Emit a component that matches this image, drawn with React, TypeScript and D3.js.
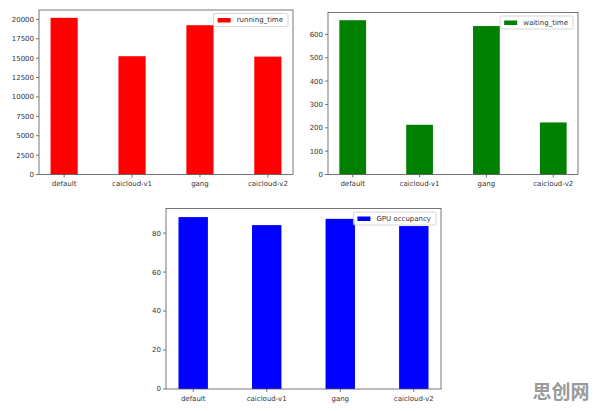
import { useEffect, useRef } from 'react';
import * as d3 from 'd3';

const categories = ['default', 'caicloud-v1', 'gang', 'caicloud-v2'];
const runningTime = [20200, 15250, 19250, 15200];
const waitingTime = [661, 213, 636, 223];
const gpuOccupancy = [88.2, 84.1, 87.3, 83.6];
const runningTicks = [0, 2500, 5000, 7500, 10000, 12500, 15000, 17500, 20000];
const waitingTicks = [0, 100, 200, 300, 400, 500, 600];
const gpuTicks = [0, 20, 40, 60, 80];

type Panel = {
  values: number[];
  ticks: number[];
  label: string;
  color: string;
  box: { left: number; right: number; top: number; bottom: number };
};

export default function App() {
  const svgRef = useRef<SVGSVGElement>(null);

  useEffect(() => {
    document.body.style.margin = '0';
    if (!svgRef.current) return;
    const svg = d3.select(svgRef.current);
    svg.selectAll('*').remove();

    const panels: Panel[] = [
      { values: runningTime, ticks: runningTicks, label: 'running_time', color: '#ff0000', box: { left: 39, right: 293, top: 10, bottom: 174.5 } },
      { values: waitingTime, ticks: waitingTicks, label: 'waiting_time', color: '#008000', box: { left: 328, right: 578, top: 12.5, bottom: 174.5 } },
      { values: gpuOccupancy, ticks: gpuTicks, label: 'GPU occupancy', color: '#0000ff', box: { left: 166, right: 441, top: 208.5, bottom: 389 } },
    ];

    const font = 'DejaVu Sans, sans-serif';

    panels.forEach(p => {
      const { left, right, top, bottom } = p.box;
      const ymax = d3.max(p.values)! * 1.05;
      const x = d3.scaleLinear().domain([-0.37, categories.length - 1 + 0.37]).range([left, right]);
      const y = d3.scaleLinear().domain([0, ymax]).range([bottom, top]);
      const bw = x(0.4) - x(0);

      const g = svg.append('g');

      g.selectAll('rect.bar')
        .data(p.values)
        .enter()
        .append('rect')
        .attr('x', (d, i) => x(i) - bw / 2)
        .attr('y', d => y(d))
        .attr('width', bw)
        .attr('height', d => y(0) - y(d))
        .attr('fill', p.color);

      // frame
      g.append('rect')
        .attr('x', left).attr('y', top)
        .attr('width', right - left).attr('height', bottom - top)
        .attr('fill', 'none').attr('stroke', '#555').attr('stroke-width', 0.8);

      // y ticks
      p.ticks.forEach(t => {
        g.append('line').attr('x1', left - 3).attr('x2', left).attr('y1', y(t)).attr('y2', y(t))
          .attr('stroke', '#555').attr('stroke-width', 0.8);
        g.append('text').attr('x', left - 5).attr('y', y(t)).attr('dy', '0.35em')
          .attr('text-anchor', 'end').attr('font-family', font).attr('font-size', 7)
          .attr('fill', '#333').text(t);
      });

      // x ticks
      categories.forEach((c, i) => {
        g.append('line').attr('x1', x(i)).attr('x2', x(i)).attr('y1', bottom).attr('y2', bottom + 3)
          .attr('stroke', '#555').attr('stroke-width', 0.8);
        g.append('text').attr('x', x(i)).attr('y', bottom + 11.5)
          .attr('text-anchor', 'middle').attr('font-family', font).attr('font-size', 7)
          .attr('fill', '#333').text(c);
      });

      // legend
      const lg = g.append('g');
      const txt = lg.append('text').attr('font-family', font).attr('font-size', 7)
        .attr('fill', '#333').text(p.label);
      const tw = (txt.node() as SVGTextElement).getComputedTextLength();
      const boxW = tw + 28;
      const boxH = 13;
      const bx = right - 5 - boxW;
      const by = top + 3.5;
      lg.insert('rect', 'text').attr('x', bx).attr('y', by).attr('width', boxW).attr('height', boxH)
        .attr('rx', 1.5).attr('fill', 'white').attr('fill-opacity', 0.85)
        .attr('stroke', '#ccc').attr('stroke-width', 0.8);
      lg.insert('rect', 'text').attr('x', bx + 4).attr('y', by + 4.5).attr('width', 13).attr('height', 4.5)
        .attr('fill', p.color);
      txt.attr('x', bx + 23).attr('y', by + boxH / 2).attr('dy', '0.35em');
    });

    svg.append('text').attr('x', 561).attr('y', 399).attr('text-anchor', 'middle')
      .attr('font-family', 'Noto Sans CJK SC, sans-serif').attr('font-weight', 'bold')
      .attr('font-size', 19).attr('fill', '#9a9a9a').text('思创网');
  }, []);

  return (
    <svg ref={svgRef} width={596} height={411} style={{ display: 'block', background: 'white' }} />
  );
}
